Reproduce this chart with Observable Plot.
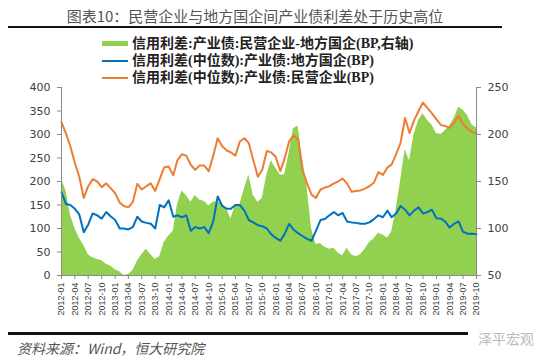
<!DOCTYPE html>
<html><head><meta charset="utf-8">
<script src="https://cdn.jsdelivr.net/npm/d3@7"></script>
<script src="https://cdn.jsdelivr.net/npm/@observablehq/plot@0.6"></script>
<style>
body{margin:0;background:#fff;}
#wrap{position:relative;width:550px;height:363px;overflow:hidden;font-family:"Noto Sans CJK SC",sans-serif;}
#chart{position:absolute;left:0;top:0;}
#title{position:absolute;left:0;width:510px;top:6px;text-align:center;font-size:15px;color:#555;line-height:20px;white-space:nowrap;}
.rule{position:absolute;left:8px;width:494px;background:#111;}
#legend{position:absolute;left:102px;top:35px;font-family:"Liberation Serif","Noto Sans CJK SC",serif;font-weight:bold;font-size:14px;color:#222;line-height:17px;white-space:nowrap;}
.row{position:relative;height:17px;}
.sw{position:absolute;left:0;width:26px;}
.lab{position:absolute;left:30px;top:0;}
#source{position:absolute;left:17px;top:339px;font-size:14px;font-style:italic;color:#555;line-height:18px;white-space:nowrap;}
#wm{position:absolute;left:478px;top:329px;font-size:14px;color:#bbb;line-height:18px;white-space:nowrap;}
</style></head><body>
<div id="wrap">
  <div id="chart"></div>
  <div id="title">图表10：民营企业与地方国企间产业债利差处于历史高位</div>
  <div class="rule" style="top:26px;height:2px;"></div>
  <div id="legend">
    <div class="row"><div class="sw" style="top:6px;height:5px;background:#92D050;"></div><div class="lab">信用利差:产业债:民营企业-地方国企(BP,右轴)</div></div>
    <div class="row"><div class="sw" style="top:8px;height:2px;background:#0070C0;"></div><div class="lab">信用利差(中位数):产业债:地方国企(BP)</div></div>
    <div class="row"><div class="sw" style="top:8px;height:2px;background:#ED7D31;"></div><div class="lab">信用利差(中位数):产业债:民营企业(BP)</div></div>
  </div>
  <div class="rule" style="top:332px;height:3px;width:460px;"></div>
  <div id="source">资料来源：Wind，恒大研究院</div>
  <div id="wm">泽平宏观</div>
</div>
<script>
// Monthly observations, 2012-01 .. 2019-10
const firstMonth = "2012-01-01";
const lastMonth = "2019-10-01";

// 信用利差(中位数):产业债:民营企业 (BP, left axis)
const privateSpread = [
 326,302,275,240,210,165,190,205,200,188,196,186,
 175,155,148,145,156,195,183,190,196,180,205,230,
 232,213,245,258,255,235,225,234,234,222,255,292,
 275,266,262,255,285,292,282,245,210,225,265,262,
 252,222,248,285,298,290,225,196,172,165,183,187,
 190,196,200,206,196,178,180,181,185,190,198,220,
 214,230,236,258,282,335,303,330,350,368,356,345,
 332,320,318,314,325,340,322,313,305,303
];
// 信用利差(中位数):产业债:地方国企 (BP, left axis)
const localSoeSpread = [
 177,152,150,142,130,92,108,132,128,121,135,126,
 118,100,100,98,103,125,115,112,110,100,150,145,
 160,125,128,124,128,95,103,100,103,90,115,168,
 148,142,142,150,150,138,118,113,107,105,100,88,
 80,74,88,110,98,90,84,78,74,95,118,120,
 128,135,128,133,115,113,112,110,110,113,120,128,
 124,138,124,132,148,140,128,138,145,132,135,140,
 122,121,115,102,110,115,93,89,89,88
];
// 信用利差:产业债:民营企业-地方国企 (BP, right axis)
const gapSpread = [
 153,140,115,100,90,82,72,69,67,66,62,60,
 56,54,50,51,55,65,72,78,72,67,70,85,
 92,97,125,140,135,128,135,130,129,124,128,129,
 126,121,110,125,125,142,157,135,128,132,157,172,
 164,157,157,180,206,209,175,145,100,83,84,80,
 78,79,74,71,79,72,70,72,78,85,89,95,
 93,90,96,120,150,184,172,200,215,222,215,210,
 201,200,204,209,217,229,226,220,210,207
];

const leftTicks = [0,50,100,150,200,250,300,350,400];
const rightTicks = [50,100,150,200,250];

const dates = d3.utcMonth.range(new Date(firstMonth), d3.utcMonth.offset(new Date(lastMonth), 1));
const rows = dates.map((d,i)=>({date:d, priv:privateSpread[i], soe:localSoeSpread[i], gap:gapSpread[i]}));
const quarterTicks = d3.utcMonth.every(3).range(new Date(firstMonth), d3.utcMonth.offset(new Date(lastMonth), 1));
// right axis (50..250) shares the left scale (0..400)
const rToL = r => (r - 50) * 2;
const lToR = l => l / 2 + 50;

const chart = Plot.plot({
  width: 550, height: 363,
  marginLeft: 61, marginRight: 74, marginTop: 87, marginBottom: 88,
  x: {type: "utc", domain: [new Date(firstMonth), new Date(lastMonth)]},
  y: {domain: [0, 400]},
  style: {fontFamily: "DejaVu Sans", fontSize: "11px", color: "#404040", background: "transparent"},
  marks: [
    Plot.areaY(rows, {x: "date", y1: rToL(50), y2: d => rToL(d.gap), fill: "#92D050", curve: "linear"}),
    Plot.lineY(rows, {x: "date", y: "soe", stroke: "#0070C0", strokeWidth: 2}),
    Plot.lineY(rows, {x: "date", y: "priv", stroke: "#ED7D31", strokeWidth: 2}),
    Plot.ruleY([0], {stroke: "#888"}),
    Plot.ruleX([new Date(firstMonth)], {stroke: "#888"}),
    Plot.ruleX([new Date(lastMonth)], {stroke: "#888"}),
    Plot.axisY({anchor: "left", ticks: leftTicks, tickSize: 4, tickPadding: 7, label: null, stroke: "#888"}),
    Plot.axisY({anchor: "right", ticks: rightTicks.map(rToL), tickFormat: d => lToR(d), tickSize: 4, tickPadding: 7, label: null, stroke: "#888"}),
    Plot.axisX({ticks: quarterTicks, tickFormat: d3.utcFormat("%Y-%m"), tickRotate: -90, tickSize: 4, tickPadding: 3, fontSize: 9, fontFamily: "Liberation Sans", label: null, stroke: "#888"})
  ]
});
document.getElementById("chart").appendChild(chart);
</script>
</body></html>
